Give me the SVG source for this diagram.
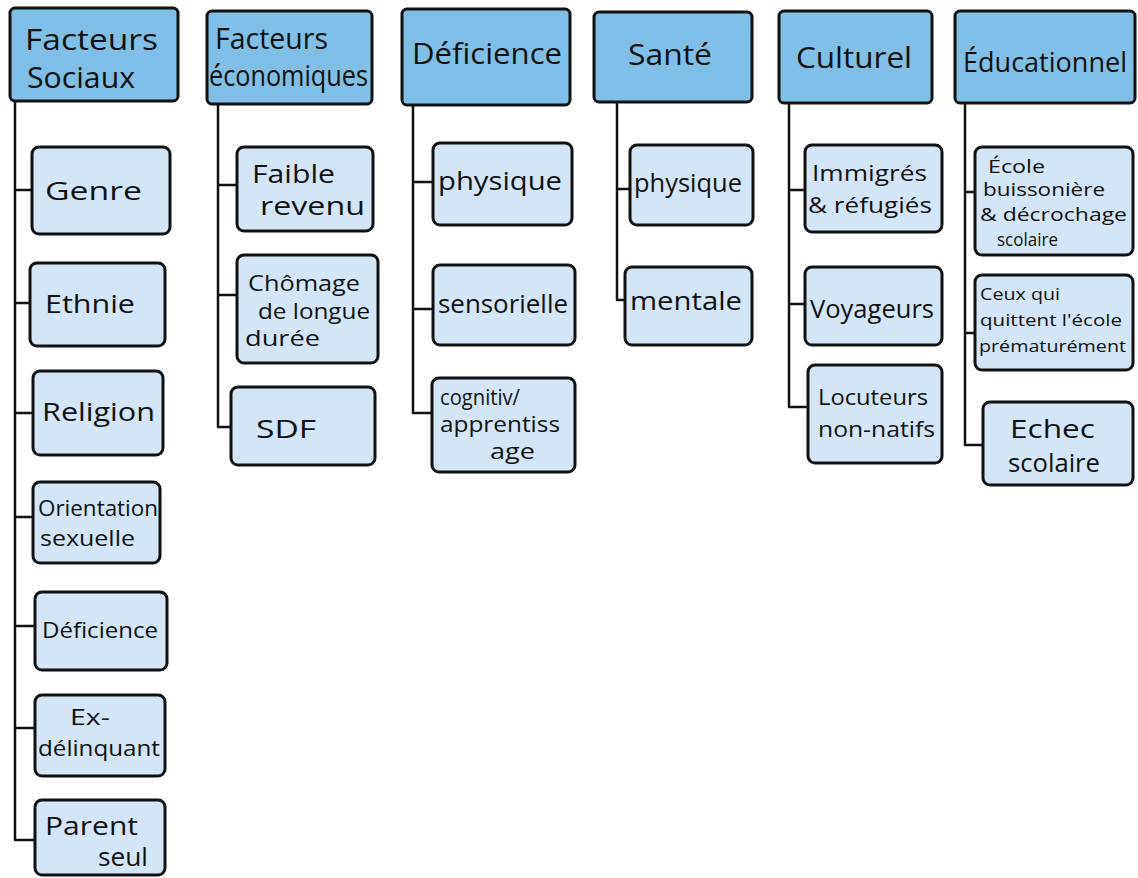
<svg xmlns="http://www.w3.org/2000/svg" width="1138" height="878" viewBox="0 0 1138 878">
<style>
.hdr{fill:#7fbfe8;stroke:#111;stroke-width:3;}
.box{fill:#d3e6f7;stroke:#111;stroke-width:3;}
.conn{fill:none;stroke:#111;stroke-width:2.5;stroke-linejoin:round;}
text{font-family:"Open Sans","Liberation Sans",sans-serif;fill:#111;font-weight:400;}
.h{font-size:30px;}
.h2{font-size:27px;}
.c{font-size:26px;}
.c2{font-size:25px;}
.s{font-size:21px;}
.t{font-size:18px;}
.u{font-size:17px;}
</style>
<rect width="1138" height="878" fill="#ffffff"/>
<g id="connectors">
<path class="conn" d="M15,101 V840 H35 M15,190 H40 M15,303 H31 M15,413 H33 M15,517 H33 M15,626 H35 M15,728 H35"/>
<path class="conn" d="M218,105 V427 H232 M218,185 H240 M218,295 H236"/>
<path class="conn" d="M413,105 V413 H432 M413,182 H433 M413,309 H433"/>
<path class="conn" d="M617,102 V300 H626 M617,189 H630"/>
<path class="conn" d="M789,103 V407 H808 M789,190 H805 M789,304 H805"/>
<path class="conn" d="M965,103 V445 H983 M965,192 H975 M965,333 H975"/>
</g>
<g id="h1"><rect class="hdr" x="10" y="8" width="168" height="93" rx="5"/><text class="h" x="25" y="50" textLength="133" lengthAdjust="spacingAndGlyphs">Facteurs</text><text class="h" x="27" y="88" textLength="108" lengthAdjust="spacingAndGlyphs">Sociaux</text></g>
<g id="h2"><rect class="hdr" x="207" y="11" width="165" height="93" rx="5"/><text class="h" x="215" y="49" textLength="113" lengthAdjust="spacingAndGlyphs">Facteurs</text><text class="h" x="209" y="86" textLength="159" lengthAdjust="spacingAndGlyphs">économiques</text></g>
<g id="h3"><rect class="hdr" x="402" y="9" width="168" height="96" rx="5"/><text class="h" x="412" y="64" textLength="150" lengthAdjust="spacingAndGlyphs">Déficience</text></g>
<g id="h4"><rect class="hdr" x="594" y="12" width="158" height="90" rx="5"/><text class="h" x="628" y="65" textLength="84" lengthAdjust="spacingAndGlyphs">Santé</text></g>
<g id="h5"><rect class="hdr" x="779" y="11" width="153" height="92" rx="5"/><text class="h" x="796" y="68" textLength="116" lengthAdjust="spacingAndGlyphs">Culturel</text></g>
<g id="h6"><rect class="hdr" x="955" y="11" width="180" height="92" rx="5"/><text class="h2" x="963" y="72" textLength="164" lengthAdjust="spacingAndGlyphs">Éducationnel</text></g>

<g id="c1a"><rect class="box" x="32" y="147" width="138" height="87" rx="7"/><text class="c" x="45" y="200" textLength="97" lengthAdjust="spacingAndGlyphs">Genre</text></g>
<g id="c1b"><rect class="box" x="30" y="263" width="135" height="83" rx="7"/><text class="c" x="45" y="313" textLength="90" lengthAdjust="spacingAndGlyphs">Ethnie</text></g>
<g id="c1c"><rect class="box" x="33" y="371" width="130" height="84" rx="7"/><text class="c" x="42" y="421" textLength="113" lengthAdjust="spacingAndGlyphs">Religion</text></g>
<g id="c1d"><rect class="box" x="33" y="482" width="127" height="81" rx="7"/><text class="s" x="38" y="516" textLength="120" lengthAdjust="spacingAndGlyphs">Orientation</text><text class="s" x="40" y="546" textLength="95" lengthAdjust="spacingAndGlyphs">sexuelle</text></g>
<g id="c1e"><rect class="box" x="35" y="592" width="132" height="78" rx="7"/><text class="s" x="42" y="638" textLength="116" lengthAdjust="spacingAndGlyphs">Déficience</text></g>
<g id="c1f"><rect class="box" x="35" y="695" width="130" height="81" rx="7"/><text class="s" x="70" y="725" textLength="40" lengthAdjust="spacingAndGlyphs">Ex-</text><text class="s" x="38" y="756" textLength="122" lengthAdjust="spacingAndGlyphs">délinquant</text></g>
<g id="c1g"><rect class="box" x="35" y="800" width="130" height="75" rx="7"/><text class="c" x="45" y="835" textLength="93" lengthAdjust="spacingAndGlyphs">Parent</text><text class="c" x="98" y="866" textLength="50" lengthAdjust="spacingAndGlyphs">seul</text></g>

<g id="c2a"><rect class="box" x="237" y="147" width="136" height="84" rx="7"/><text class="c" x="252" y="183" textLength="83" lengthAdjust="spacingAndGlyphs">Faible</text><text class="c" x="260" y="215" textLength="105" lengthAdjust="spacingAndGlyphs">revenu</text></g>
<g id="c2b"><rect class="box" x="237" y="255" width="141" height="108" rx="7"/><text class="s" x="248" y="291" textLength="112" lengthAdjust="spacingAndGlyphs">Chômage</text><text class="s" x="258" y="319" textLength="112" lengthAdjust="spacingAndGlyphs">de longue</text><text class="s" x="245" y="346" textLength="75" lengthAdjust="spacingAndGlyphs">durée</text></g>
<g id="c2c"><rect class="box" x="231" y="387" width="144" height="78" rx="7"/><text class="c" x="256" y="438" textLength="60" lengthAdjust="spacingAndGlyphs">SDF</text></g>

<g id="c3a"><rect class="box" x="433" y="143" width="139" height="82" rx="7"/><text class="c" x="438" y="190" textLength="124" lengthAdjust="spacingAndGlyphs">physique</text></g>
<g id="c3b"><rect class="box" x="433" y="265" width="142" height="80" rx="7"/><text class="c" x="438" y="313" textLength="130" lengthAdjust="spacingAndGlyphs">sensorielle</text></g>
<g id="c3c"><rect class="box" x="432" y="378" width="143" height="94" rx="7"/><text class="s" x="440" y="405" textLength="80" lengthAdjust="spacingAndGlyphs">cognitiv/</text><text class="s" x="440" y="432" textLength="120" lengthAdjust="spacingAndGlyphs">apprentiss</text><text class="s" x="490" y="459" textLength="45" lengthAdjust="spacingAndGlyphs">age</text></g>

<g id="c4a"><rect class="box" x="630" y="145" width="123" height="80" rx="7"/><text class="c" x="634" y="192" textLength="108" lengthAdjust="spacingAndGlyphs">physique</text></g>
<g id="c4b"><rect class="box" x="625" y="267" width="127" height="78" rx="7"/><text class="c" x="630" y="310" textLength="112" lengthAdjust="spacingAndGlyphs">mentale</text></g>

<g id="c5a"><rect class="box" x="805" y="145" width="137" height="87" rx="7"/><text class="s" x="812" y="181" textLength="115" lengthAdjust="spacingAndGlyphs">Immigrés</text><text class="s" x="808" y="213" textLength="124" lengthAdjust="spacingAndGlyphs">&amp; réfugiés</text></g>
<g id="c5b"><rect class="box" x="805" y="267" width="137" height="78" rx="7"/><text class="c" x="810" y="318" textLength="124" lengthAdjust="spacingAndGlyphs">Voyageurs</text></g>
<g id="c5c"><rect class="box" x="808" y="365" width="134" height="98" rx="7"/><text class="s" x="818" y="405" textLength="110" lengthAdjust="spacingAndGlyphs">Locuteurs</text><text class="s" x="818" y="437" textLength="117" lengthAdjust="spacingAndGlyphs">non-natifs</text></g>

<g id="c6a"><rect class="box" x="975" y="147" width="158" height="108" rx="7"/><text class="t" x="988" y="173" textLength="57" lengthAdjust="spacingAndGlyphs">École</text><text class="t" x="983" y="196" textLength="122" lengthAdjust="spacingAndGlyphs">buissonière</text><text class="t" x="980" y="221" textLength="147" lengthAdjust="spacingAndGlyphs">&amp; décrochage</text><text class="t" x="997" y="246" textLength="61" lengthAdjust="spacingAndGlyphs">scolaire</text></g>
<g id="c6b"><rect class="box" x="975" y="275" width="158" height="95" rx="7"/><text class="u" x="980" y="300" textLength="80" lengthAdjust="spacingAndGlyphs">Ceux qui</text><text class="u" x="980" y="326" textLength="142" lengthAdjust="spacingAndGlyphs">quittent l'école</text><text class="u" x="979" y="352" textLength="147" lengthAdjust="spacingAndGlyphs">prématurément</text></g>
<g id="c6c"><rect class="box" x="983" y="402" width="150" height="83" rx="7"/><text class="c2" x="1010" y="438" textLength="85" lengthAdjust="spacingAndGlyphs">Echec</text><text class="c2" x="1008" y="472" textLength="92" lengthAdjust="spacingAndGlyphs">scolaire</text></g>
</svg>
